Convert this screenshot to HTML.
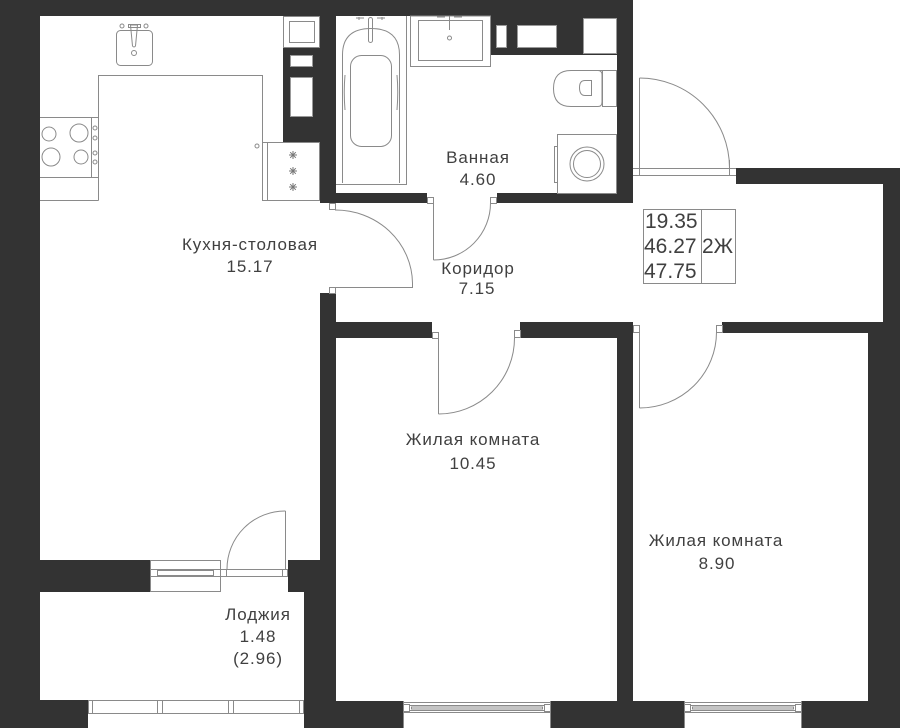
<!DOCTYPE html>
<html>
<head>
<meta charset="utf-8">
<style>
  html, body { margin: 0; padding: 0; background: #fff; }
  svg { display: block; }
  .t { font-family: "Liberation Sans", "DejaVu Sans", sans-serif; font-size: 17px; fill: #404040; letter-spacing: 0.9px; }
  .n { font-family: "Liberation Sans", "DejaVu Sans", sans-serif; font-size: 21px; fill: #404040; }
</style>
</head>
<body>
<svg width="900" height="728" viewBox="0 0 900 728" xmlns="http://www.w3.org/2000/svg">
  <rect x="0" y="0" width="900" height="728" fill="#fff"/>

  <!-- WALLS -->
  <g fill="#333333" shape-rendering="crispEdges">
    <rect x="0" y="0" width="633" height="16"/>
    <rect x="0" y="0" width="40" height="728"/>
    <rect x="283" y="48" width="53" height="94"/>
    <rect x="320" y="16" width="16" height="187"/>
    <rect x="617" y="0" width="16" height="203"/>
    <rect x="490" y="16" width="127" height="39"/>
    <rect x="336" y="193" width="91" height="10"/>
    <rect x="497" y="193" width="136" height="10"/>
    <rect x="320" y="293" width="16" height="267"/>
    <rect x="288" y="560" width="48" height="32"/>
    <rect x="304" y="592" width="32" height="136"/>
    <rect x="40" y="560" width="110" height="32"/>
    <rect x="0" y="700" width="88" height="28"/>
    <rect x="320" y="322" width="112" height="16"/>
    <rect x="520" y="322" width="113" height="16"/>
    <rect x="617" y="322" width="16" height="406"/>
    <rect x="722" y="322" width="178" height="11"/>
    <rect x="883" y="168" width="17" height="165"/>
    <rect x="868" y="322" width="32" height="406"/>
    <rect x="736" y="168" width="164" height="16"/>
    <rect x="304" y="701" width="99" height="27"/>
    <rect x="551" y="701" width="133" height="27"/>
    <rect x="802" y="701" width="98" height="27"/>
  </g>

  <!-- white cutouts inside dark blocks -->
  <g fill="#fff" stroke="#999" stroke-width="1">
    <rect x="290.5" y="55.5" width="22" height="11"/>
    <rect x="290.5" y="77.5" width="22" height="39"/>
    <rect x="496.5" y="25.5" width="10" height="22"/>
    <rect x="517.5" y="25.5" width="39" height="22"/>
    <rect x="583.5" y="18.5" width="33" height="35"/>
  </g>

  <!-- THIN LINES -->
  <g fill="none" stroke="#8a8a8a" stroke-width="1">
    <!-- Kitchen counter -->
    <polyline points="40,117.5 98.5,117.5 98.5,75.5 262.5,75.5 262.5,200.5"/>
    <line x1="98.5" y1="117" x2="98.5" y2="200.5"/>
    <line x1="40" y1="200.5" x2="98.5" y2="200.5"/>
    <line x1="40" y1="177.5" x2="98.5" y2="177.5"/>
    <line x1="91.5" y1="117.5" x2="91.5" y2="177.5"/>
    <!-- burners -->
    <circle cx="49" cy="134" r="7"/>
    <circle cx="79" cy="133" r="9"/>
    <circle cx="51" cy="157" r="9"/>
    <circle cx="81" cy="157" r="7"/>
    <!-- knobs -->
    <circle cx="95" cy="128" r="2"/>
    <circle cx="95" cy="138" r="2"/>
    <circle cx="95" cy="153" r="2"/>
    <circle cx="95" cy="162" r="2"/>
    <!-- kitchen sink -->
    <rect x="116.5" y="30.5" width="36" height="35" rx="4"/>
    <rect x="128.5" y="24.5" width="12" height="3"/>
    <path d="M130.5 25 L137.5 25 L135.5 46 Q134 48 132.5 46 Z"/>
    <circle cx="122" cy="26" r="2"/>
    <circle cx="146" cy="26" r="2"/>
    <circle cx="134" cy="53" r="2.5"/>
    <!-- riser box -->
    <rect x="283.5" y="16.5" width="36" height="31"/>
    <rect x="289.5" y="21.5" width="25" height="21"/>
    <!-- fridge -->
    <rect x="262.5" y="142.5" width="5" height="58"/>
    <rect x="267.5" y="142.5" width="52" height="58" fill="#fff"/>
    <circle cx="257" cy="146" r="2"/>
    <g stroke="#777">
      <path d="M289 155 h8 M293 151 v8 M290.2 152.2 l5.6 5.6 M295.8 152.2 l-5.6 5.6"/>
      <path d="M289 171 h8 M293 167 v8 M290.2 168.2 l5.6 5.6 M295.8 168.2 l-5.6 5.6"/>
      <path d="M289 187 h8 M293 183 v8 M290.2 184.2 l5.6 5.6 M295.8 184.2 l-5.6 5.6"/>
    </g>

    <!-- Bathroom: bath -->
    <polyline points="336,184.5 406.5,184.5 406.5,16"/>
    <path d="M342.5 183 L342.5 55 Q342.5 28.5 371 28.5 Q399.5 28.5 399.5 55 L399.5 183"/>
    <rect x="350.5" y="55.5" width="41" height="91" rx="11"/>
    <path d="M345 75 Q343.5 92 345 110 M397 75 Q398.5 92 397 110"/>
    <rect x="368.5" y="17.5" width="4" height="25" rx="2"/>
    <path d="M356 18 h8 M377 18 h8 M359 17 v3 M382 17 v3"/>
    <!-- bathroom sink -->
    <rect x="410.5" y="16" width="80" height="50.5"/>
    <rect x="418.5" y="20.5" width="64" height="40"/>
    <line x1="449.5" y1="16" x2="449.5" y2="30"/>
    <path d="M437 17 h8 M454 17 h8"/>
    <circle cx="449.5" cy="38" r="2"/>
    <!-- toilet -->
    <rect x="602.5" y="70.5" width="14" height="36"/>
    <path d="M602 70.5 L571 70.5 Q553.5 70.5 553.5 88.5 Q553.5 106.5 571 106.5 L598 106.5 Q602 106.5 602 102 L602 75 Q602 70.5 598 70.5"/>
    <path d="M591.5 80.5 L585 80.5 Q579.5 80.5 579.5 87.5 Q579.5 95.5 585 95.5 L591.5 95.5 Z"/>
    <!-- washer -->
    <rect x="557.5" y="134.5" width="59" height="59"/>
    <rect x="554.5" y="146.5" width="3" height="36"/>
    <circle cx="587" cy="164" r="17"/>
    <circle cx="587" cy="164" r="13.5"/>

    <!-- Kitchen door -->
    <rect x="329.5" y="203.5" width="6" height="6"/>
    <rect x="329.5" y="287.5" width="6" height="6"/>
    <path d="M335 210 A 77 74 0 0 1 412.5 283 L412.5 287.5 L336 287.5"/>
    <!-- Bathroom door -->
    <rect x="427.5" y="197.5" width="6" height="6"/>
    <rect x="490.5" y="197.5" width="6" height="6"/>
    <line x1="433.5" y1="203" x2="433.5" y2="260"/>
    <path d="M433.5 260 A 57 57 0 0 0 490.5 203"/>
    <!-- Bedroom 1 door -->
    <rect x="432.5" y="332.5" width="6" height="6"/>
    <rect x="514.5" y="330.5" width="6" height="7"/>
    <line x1="438.5" y1="338" x2="438.5" y2="414"/>
    <path d="M438.5 414 A 76 76 0 0 0 514.5 338"/>
    <!-- Bedroom 2 door -->
    <rect x="633.5" y="325.5" width="6" height="7"/>
    <rect x="716.5" y="325.5" width="6" height="7"/>
    <line x1="639.5" y1="332" x2="639.5" y2="408"/>
    <path d="M639.5 408 A 77 76 0 0 0 716.5 332"/>
    <!-- Entrance door -->
    <line x1="633" y1="168.5" x2="736" y2="168.5"/>
    <line x1="633" y1="175.5" x2="736" y2="175.5"/>
    <line x1="639.5" y1="78" x2="639.5" y2="175"/>
    <path d="M639.5 78 A 90 90 0 0 1 729.5 168"/>
    <line x1="729.5" y1="160" x2="729.5" y2="175"/>

    <!-- Kitchen -> loggia door/window -->
    <rect x="150.5" y="560.5" width="70" height="31"/>
    <line x1="150" y1="569.5" x2="288" y2="569.5"/>
    <line x1="150" y1="576.5" x2="288" y2="576.5"/>
    <rect x="157.5" y="570.5" width="56" height="5"/>
    <rect x="220.5" y="569.5" width="6" height="7"/>
    <rect x="282.5" y="569.5" width="5" height="7"/>
    <line x1="285.5" y1="511" x2="285.5" y2="569"/>
    <path d="M227 569 A 58 58 0 0 1 285.5 511"/>

    <!-- Loggia glazing -->
    <line x1="88" y1="700.5" x2="304" y2="700.5"/>
    <line x1="88" y1="713.5" x2="304" y2="713.5"/>
    <rect x="88.5" y="700.5" width="4" height="13"/>
    <rect x="157.5" y="700.5" width="5" height="13"/>
    <rect x="228.5" y="700.5" width="5" height="13"/>
    <rect x="299.5" y="700.5" width="4" height="13"/>

    <!-- Bedroom windows -->
    <line x1="403.5" y1="701" x2="403.5" y2="728"/>
    <line x1="550.5" y1="701" x2="550.5" y2="728"/>
    <line x1="403" y1="702.5" x2="551" y2="702.5"/>
    <line x1="403" y1="712.5" x2="551" y2="712.5"/>
    <rect x="403.5" y="704.5" width="6" height="7"/>
    <rect x="544.5" y="704.5" width="6" height="7"/>
    <rect x="409.5" y="705.5" width="135" height="5"/>
    <rect x="411.5" y="707" width="131" height="2"/>

    <line x1="684.5" y1="701" x2="684.5" y2="728"/>
    <line x1="801.5" y1="701" x2="801.5" y2="728"/>
    <line x1="684" y1="702.5" x2="802" y2="702.5"/>
    <line x1="684" y1="712.5" x2="802" y2="712.5"/>
    <rect x="684.5" y="704.5" width="6" height="7"/>
    <rect x="795.5" y="704.5" width="6" height="7"/>
    <rect x="690.5" y="705.5" width="105" height="5"/>
    <rect x="692.5" y="707" width="101" height="2"/>

    <!-- Info box -->
    <rect x="643.5" y="209.5" width="92" height="74"/>
    <line x1="701.5" y1="209.5" x2="701.5" y2="283.5"/>
  </g>

  <!-- LABELS -->
  <g text-anchor="middle">
    <text class="t" x="250" y="250">Кухня-столовая</text>
    <text class="t" x="250" y="272">15.17</text>

    <text class="t" x="478" y="163">Ванная</text>
    <text class="t" x="478" y="185">4.60</text>

    <text class="t" x="478" y="274">Коридор</text>
    <text class="t" x="477" y="294">7.15</text>

    <text class="t" x="473" y="445">Жилая комната</text>
    <text class="t" x="473" y="469">10.45</text>

    <text class="t" x="716" y="546">Жилая комната</text>
    <text class="t" x="717" y="569">8.90</text>

    <text class="t" x="258" y="620">Лоджия</text>
    <text class="t" x="258" y="642">1.48</text>
    <text class="t" x="258" y="664">(2.96)</text>
  </g>

  <g>
    <text class="n" x="645" y="228">19.35</text>
    <text class="n" x="644" y="253">46.27</text>
    <text class="n" x="644" y="278">47.75</text>
    <text class="n" x="702" y="253">2Ж</text>
  </g>
</svg>
</body>
</html>
